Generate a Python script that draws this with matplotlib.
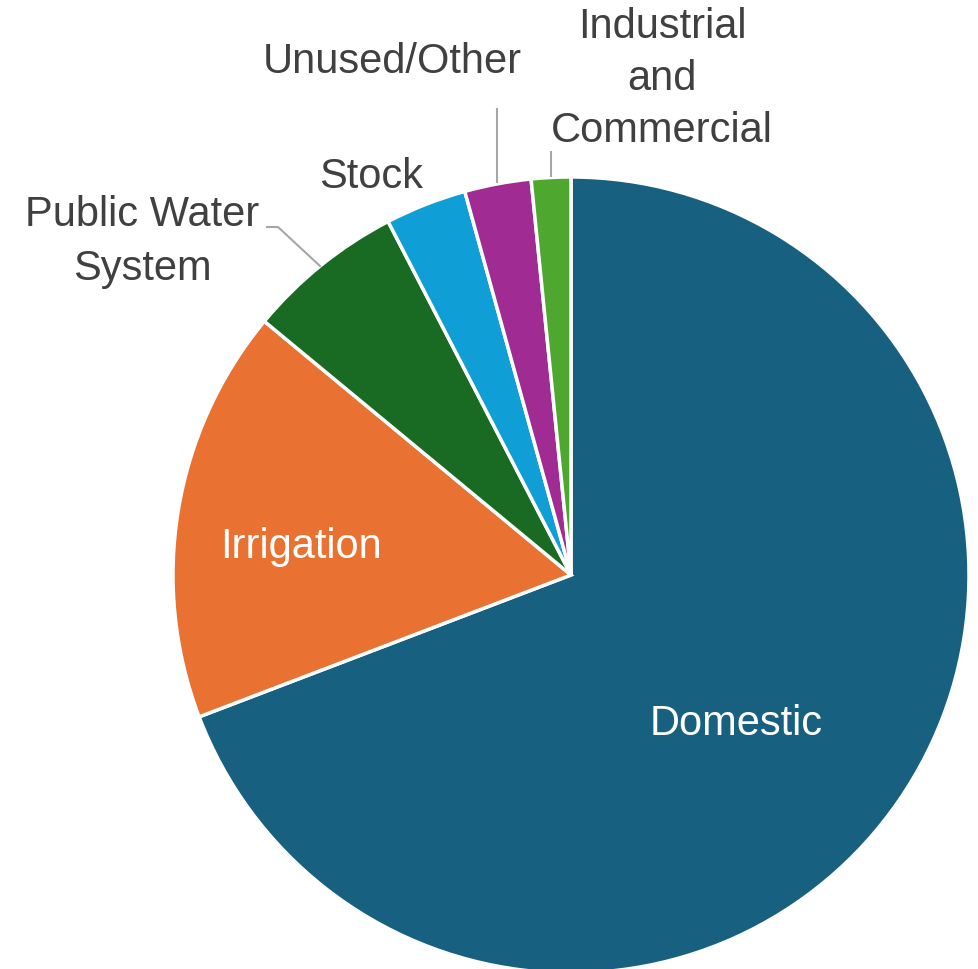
import numpy as np
import matplotlib
matplotlib.use("Agg")
import matplotlib.pyplot as plt

# water use by category (percent of total)
labels = ["Domestic", "Irrigation", "Public Water\nSystem", "Stock",
          "Unused/Other", "Industrial\nand\nCommercial"]
values = [69.2, 16.8, 6.4, 3.3, 2.7, 1.6]
colors = ["#17607F", "#E97132", "#196B24", "#0F9ED5", "#A02B93", "#4EA72E"]

W, H = 979, 970
cx, cy, R = 571, 576, 398   # pie centre / radius in pixels


def px(x, y):
    # pixel -> data coords (radius 1)
    return (x - cx) / R, (cy - y) / R


fig = plt.figure(figsize=(W / 100, H / 100), dpi=100)
ax = fig.add_axes([0, 0, 1, 1])

wedges, _ = ax.pie(values, colors=colors, startangle=90, counterclock=False,
                   radius=1, wedgeprops=dict(edgecolor="white", linewidth=2.5))

# pie() resets the limits, so set them afterwards
ax.set_xlim(-cx / R, (W - cx) / R)
ax.set_ylim(-(H - cy) / R, cy / R)
ax.set_aspect("equal")
ax.axis("off")

fs = 30
txt = "#404040"

# label spots (pixel x centre, baseline of last line)
lab_pos = [(736, 735), (301, 558), (142, 280), (371, 188), (392, 73), (662, 142)]
lab_col = ["white", "white", txt, txt, txt, txt]
lab_ls = [1.45, 1.45, 1.45, 1.45, 1.45, 1.38]
for lab, (x, y), c, ls in zip(labels, lab_pos, lab_col, lab_ls):
    ax.text(*px(x, y), lab, ha="center", va="baseline", fontsize=fs, color=c,
            linespacing=ls, family=["Liberation Sans", "DejaVu Sans"])

# leader lines
lc = "#A6A6A6"
for pts in [[(267, 228), (278, 228), (320, 267)],
            [(497, 110), (497, 183)],
            [(551, 153), (551, 177)]]:
    xs, ys = zip(*[px(*p) for p in pts])
    ax.plot(xs, ys, color=lc, lw=1.5)

fig.savefig("out.png", dpi=100)
